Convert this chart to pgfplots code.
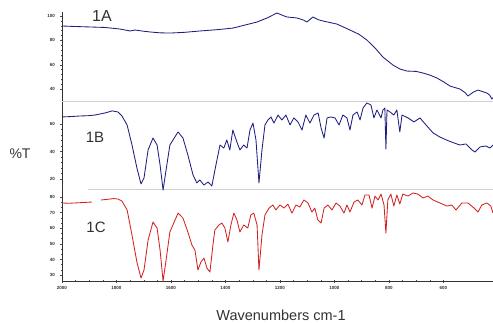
\documentclass[border=0pt]{standalone}
\usepackage{pgfplots}
\pgfplotsset{compat=1.18}
\usepackage{fontspec}
\setmainfont{Liberation Sans}
\definecolor{specblue}{RGB}{30,30,128}
\definecolor{specred}{RGB}{210,35,35}
\definecolor{sepgray}{RGB}{208,208,208}
\definecolor{txt}{RGB}{50,50,50}
\pgfplotsset{
  panel/.style={scale only axis, width=431pt, x dir=reverse, xmin=418, xmax=2000,
    anchor=south west, axis y line*=left, tick align=center,
    major tick length=3pt, minor tick length=2pt,
    every tick/.style={black!70, line width=0.4pt},
    y axis line style={black!80, line width=0.5pt},
    yticklabel style={font=\fontsize{4.5}{5}\selectfont\bfseries, text=txt, xshift=-2pt},
    xticklabel style={font=\fontsize{4.5}{5}\selectfont\bfseries, text=txt},
    /pgf/number format/assume math mode=true,
    /pgf/number format/1000 sep={},
    clip=false},
  spec/.style={line width=0.85pt, line join=round}
}
\begin{document}
\begin{tikzpicture}[x=1pt,y=1pt]
\useasboundingbox (0,0) rectangle (493,322);
% ---------- 1C ----------
\begin{axis}[panel, at={(62pt,41pt)}, height=91pt, ymin=26.2, ymax=84.5,
  axis x line*=bottom, x axis line style={black!80, line width=0.5pt},
  xtick={2000,1800,1600,1400,1200,1000,800,600}, minor x tick num=3,
  ytick={30,40,50,60,70,80}, minor y tick num=2]
\draw[sepgray, line width=1pt] (rel axis cs:0.06,1) -- (rel axis cs:1,1);
\addplot[spec, specred] coordinates {
(2000,76.2)(1975,76.0)(1952,76.2)(1920,76.5)(1890,76.8)};
\addplot[spec, specred] coordinates {
(1857,78.1)(1840,78.4)(1824,78.7)(1810,79.0)(1794,78.7)(1780,77.4)(1761,71.7)(1743,55.6)(1725,38.3)(1710,28.1)
(1699,33.2)(1684,52.4)(1666,64.0)(1651,60.1)(1640,46.0)(1629,26.2)(1618,39.6)(1604,57.6)(1574,69.7)
(1556,66.5)(1538,57.6)(1523,49.2)(1512,46.0)(1501,33.2)(1490,38.3)(1479,40.9)(1468,34.5)(1457,31.9)
(1446,49.2)(1439,58.8)(1424,62.1)(1413,63.3)(1402,60.1)(1391,51.2)(1380,62.1)(1369,69.7)(1358,65.4)
(1347,57.6)(1333,62.1)(1318,60.1)(1307,68.5)(1296,69.7)(1284,62.1)(1277,33.2)(1266,55.6)(1255,68.5)
(1240,72.9)(1226,74.9)(1215,71.7)(1200,74.9)(1185,72.9)(1171,75.5)(1156,69.7)(1141,74.9)(1127,73.6)
(1112,78.1)(1097,76.2)(1083,70.4)(1072,72.9)(1061,65.4)(1049,63.3)(1038,72.9)(1024,74.9)(1009,71.7)
(994,76.2)(980,74.2)(965,69.7)(954,74.9)(943,70.4)(928,76.8)(914,78.1)(899,74.9)(888,81.3)(873,81.3)
(862,72.9)(851,80.6)(840,78.1)(829,81.9)(818,74.9)(811,56.9)(804,78.1)(793,81.9)(782,74.2)(771,81.3)
(760,75.5)(749,81.9)(730,80.6)(712,82.6)(694,81.9)(675,79.4)(657,80.6)(638,78.1)(613,76.2)(587,74.2)
(569,74.9)(554,71.7)(532,76.2)(510,76.2)(488,73.0)(473,70.4)(459,74.9)(440,76.2)(426,74.2)(418,69.7)};
\end{axis}
% ---------- 1B ----------
\begin{axis}[panel, at={(62pt,132pt)}, height=89pt, ymin=12, ymax=76.7,
  axis x line=none, ytick={20,40,60}, minor y tick num=4]
\draw[sepgray, line width=1pt] (rel axis cs:0,1) -- (rel axis cs:1,1);
\addplot[spec, specblue] coordinates {
(2000,65.1)(1967,65.4)(1934,65.8)(1905,66.0)(1879,66.5)(1842,68.0)(1816,69.5)(1794,68.7)(1780,65.8)
(1761,59.3)(1743,44.7)(1725,28.0)(1710,16.4)(1699,20.7)(1684,41.1)(1666,49.8)(1651,44.7)(1640,30.2)
(1629,12.0)(1618,26.5)(1604,44.7)(1574,54.2)(1556,49.8)(1538,37.5)(1519,22.9)(1505,17.1)(1494,19.3)
(1479,15.6)(1464,17.8)(1450,14.9)(1435,30.2)(1420,44.7)(1406,42.5)(1395,48.4)(1384,41.1)(1373,55.6)
(1358,46.9)(1347,41.1)(1333,44.7)(1321,42.5)(1310,55.6)(1299,60.7)(1288,48.4)(1277,17.1)(1266,41.1)
(1255,59.3)(1244,62.9)(1233,65.1)(1222,60.7)(1207,66.5)(1193,62.9)(1178,66.5)(1163,59.3)(1149,64.4)
(1134,61.5)(1119,55.6)(1105,66.5)(1090,60.7)(1075,66.5)(1060,68.0)(1049,57.1)(1038,49.8)(1027,64.4)
(1013,65.1)(998,64.4)(983,59.3)(969,66.5)(954,64.4)(943,55.6)(932,66.5)(917,68.7)(906,62.9)(895,71.6)
(881,75.3)(866,73.8)(855,64.4)(844,70.2)(829,64.4)(822,70.2)(815,71.6)(811,41.8)(807,70.2)(796,68.7)
(782,66.5)(771,70.2)(760,54.2)(752,66.5)(730,64.4)(708,61.5)(686,64.4)(664,59.3)(638,53.5)(613,50.5)
(587,48.2)(561,46.2)(539,44.7)(517,45.5)(495,41.1)(484,39.6)(466,43.3)(444,44.0)(429,42.5)(418,44.7)};
\end{axis}
% ---------- 1A ----------
\begin{axis}[panel, at={(62pt,221pt)}, height=89pt, ymin=30.2, ymax=103.3,
  axis x line=none, ytick={40,60,80,100}, minor y tick num=4]
\addplot[spec, specblue] coordinates {
(2000,91.8)(1952,91.4)(1897,91.0)(1842,90.6)(1787,89.3)(1750,87.7)(1732,88.5)(1700,87.5)(1677,86.9)
(1640,86.2)(1604,86.0)(1550,86.6)(1494,87.7)(1430,88.8)(1372,90.1)(1330,92.5)(1284,95.1)(1245,98.6)
(1211,102.5)(1190,100.5)(1174,99.2)(1138,98.4)(1115,96.8)(1101,95.1)(1079,99.2)(1060,97.0)(1042,95.9)
(991,93.4)(943,88.5)(910,85.0)(881,80.3)(850,73.5)(822,66.3)(785,59.7)(760,56.5)(734,54.8)(700,54.5)
(675,53.2)(650,51.5)(624,49.1)(600,46.0)(576,42.5)(539,40.0)(520,37.0)(510,34.3)(490,37.5)(473,39.2)
(455,37.8)(440,36.7)(430,35.0)(422,31.8)(418,33.0)};
\end{axis}
% ---------- labels ----------
\node[text=txt, font=\fontsize{16}{16}\selectfont] at (102,306) {1A};
\node[text=txt, font=\fontsize{15}{15}\selectfont] at (95,185) {1B};
\node[text=txt, font=\fontsize{15}{15}\selectfont] at (96,95) {1C};
\node[text=txt, font=\fontsize{14}{14}\selectfont] at (20,168) {\%T};
\node[text=txt, font=\fontsize{14.5}{14.5}\selectfont] at (281,7) {Wavenumbers cm-1};
\end{tikzpicture}
\end{document}
